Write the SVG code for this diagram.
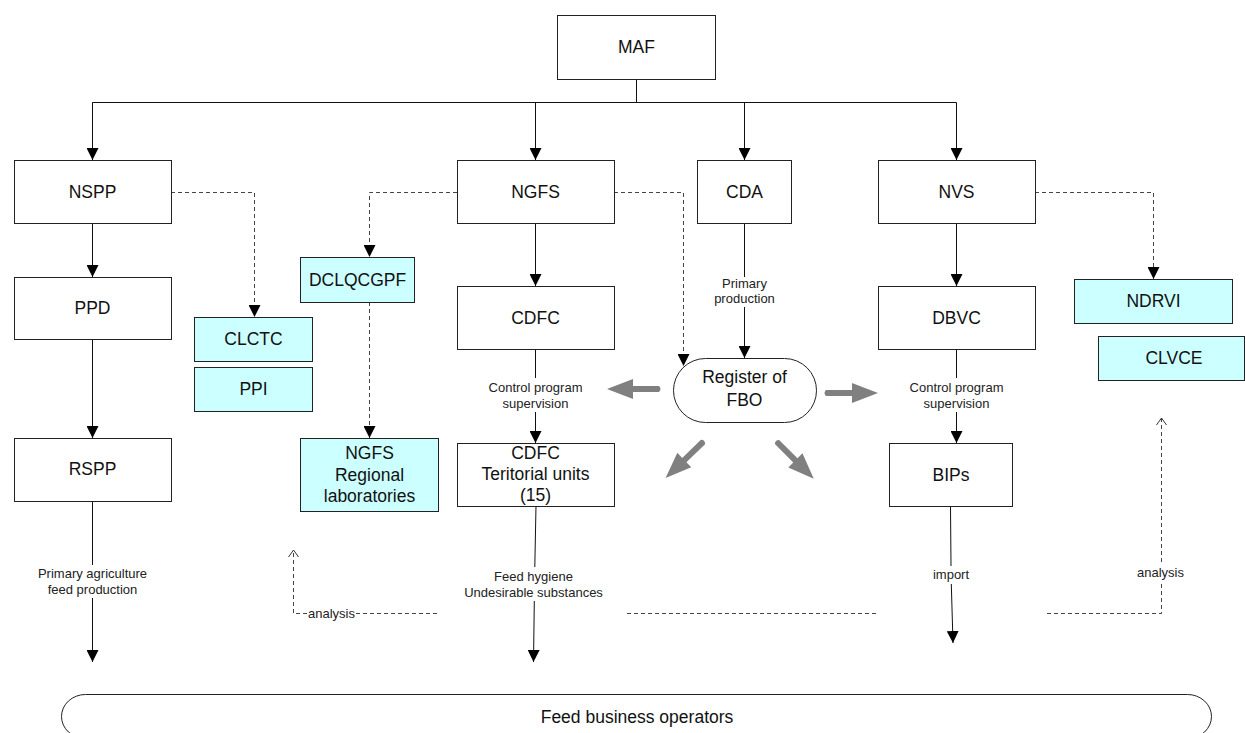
<svg xmlns="http://www.w3.org/2000/svg" width="1245" height="733" viewBox="0 0 1245 733">
  <style>
    .box { fill: #ffffff; stroke: #222222; stroke-width: 1; }
    .lab { fill: #ccffff; stroke: #222222; stroke-width: 1; }
    .t { font-family: "Liberation Sans", Arial, sans-serif; font-size: 17.5px; fill: #111111; text-anchor: middle; }
    .s { font-family: "Liberation Sans", Arial, sans-serif; font-size: 13px; fill: #222222; text-anchor: middle; }
    .ln { fill: none; stroke: #111111; stroke-width: 1; }
    .dash { fill: none; stroke: #444444; stroke-width: 1; stroke-dasharray: 4 3; }
    .big { fill: #808080; }
  </style>
  <defs>
    <marker id="tri" markerUnits="userSpaceOnUse" markerWidth="12" markerHeight="12" refX="12" refY="6" orient="auto">
      <path d="M0,0 L12,6 L0,12 Z" fill="#000000"/>
    </marker>
    <marker id="open" markerUnits="userSpaceOnUse" markerWidth="10" markerHeight="12" refX="7" refY="6" orient="auto">
      <path d="M0,1 L7,6 L0,11" fill="none" stroke="#333333" stroke-width="1"/>
    </marker>
    <path id="bigArrow" d="M0,-3 Q-3,0 0,3 L26,3 L26,10 L52,0 L26,-10 L26,-3 Z"/>
  </defs>

  <!-- connectors -->
  <g id="connectors">
    <!-- MAF fan-out -->
    <path class="ln" d="M636.5,79 V102.5"/>
    <path class="ln" d="M92.5,160 V102.5 H956.5 V160" marker-end="url(#tri)"/>
    <path class="ln" d="M92.5,102.5 V160" marker-end="url(#tri)"/>
    <path class="ln" d="M535.5,102.5 V160" marker-end="url(#tri)"/>
    <path class="ln" d="M744.5,102.5 V160" marker-end="url(#tri)"/>

    <!-- solid flows -->
    <path class="ln" d="M92.5,223 V277" marker-end="url(#tri)"/>
    <path class="ln" d="M92.5,339 V438" marker-end="url(#tri)"/>
    <path class="ln" d="M535.5,223 V286" marker-end="url(#tri)"/>
    <path class="ln" d="M535.5,349 V378"/>
    <path class="ln" d="M535.5,412 V443" marker-end="url(#tri)"/>
    <path class="ln" d="M744.5,223 V277"/>
    <path class="ln" d="M744.5,307 V358" marker-end="url(#tri)"/>
    <path class="ln" d="M956.5,223 V286" marker-end="url(#tri)"/>
    <path class="ln" d="M956.5,349 V378"/>
    <path class="ln" d="M956.5,412 V443" marker-end="url(#tri)"/>

    <!-- flows to the operators -->
    <path class="ln" d="M92.5,501 V565"/>
    <path class="ln" d="M92.5,598 V662" marker-end="url(#tri)"/>
    <path class="ln" d="M536,506 L534.8,567"/>
    <path class="ln" d="M534.3,601 L533.5,662" marker-end="url(#tri)"/>
    <path class="ln" d="M950.5,506 L951,566"/>
    <path class="ln" d="M951.3,584 L953,643" marker-end="url(#tri)"/>

    <!-- dashed links to laboratories / register -->
    <path class="dash" d="M171,192.5 H254.5 V317" marker-end="url(#tri)"/>
    <path class="dash" d="M457,192.5 H369.5 V257" marker-end="url(#tri)"/>
    <path class="dash" d="M369.5,302 V438" marker-end="url(#tri)"/>
    <path class="dash" d="M614,192.5 H683.5 V366" marker-end="url(#tri)"/>
    <path class="dash" d="M1035,192.5 H1153.5 V279" marker-end="url(#tri)"/>

    <!-- analysis feedback -->
    <path class="dash" d="M307,613.5 H293.5 V550" marker-end="url(#open)"/>
    <path class="dash" d="M356,613.5 H438"/>
    <path class="dash" d="M627,613.5 H878"/>
    <path class="dash" d="M1047,613.5 H1161.5 V584"/>
    <path class="dash" d="M1161.5,562 V418" marker-end="url(#open)"/>

    <!-- register distribution arrows -->
    <use href="#bigArrow" class="big" transform="translate(659,389) rotate(180)"/>
    <use href="#bigArrow" class="big" transform="translate(826,393)"/>
    <use href="#bigArrow" class="big" transform="translate(703,442) rotate(136)"/>
    <use href="#bigArrow" class="big" transform="translate(777,442) rotate(45)"/>
  </g>

  <!-- connector labels -->
  <g id="labels">
    <text class="s" x="744.5" y="287.5">Primary</text>
    <text class="s" x="744.5" y="303">production</text>
    <text class="s" x="535.5" y="391.5">Control program</text>
    <text class="s" x="535.5" y="408">supervision</text>
    <text class="s" x="956.5" y="391.5">Control program</text>
    <text class="s" x="956.5" y="408">supervision</text>
    <text class="s" x="92.5" y="577.5">Primary agriculture</text>
    <text class="s" x="92.5" y="593.5">feed production</text>
    <text class="s" x="533.5" y="580.5">Feed hygiene</text>
    <text class="s" x="533.5" y="596.5">Undesirable substances</text>
    <text class="s" x="951" y="578.5">import</text>
    <text class="s" x="1160.5" y="576.5">analysis</text>
    <text class="s" x="331.5" y="617.5">analysis</text>
  </g>

  <g id="MAF"><rect class="box" x="557.5" y="15.5" width="158" height="64"/><text class="t" x="636.5" y="53">MAF</text></g>
  <g id="NSPP"><rect class="box" x="14.5" y="160.5" width="157" height="63"/><text class="t" x="92.5" y="198">NSPP</text></g>
  <g id="NGFS"><rect class="box" x="457.5" y="160.5" width="157" height="63"/><text class="t" x="535.5" y="198">NGFS</text></g>
  <g id="CDA"><rect class="box" x="697.5" y="160.5" width="94" height="63"/><text class="t" x="744.5" y="198">CDA</text></g>
  <g id="NVS"><rect class="box" x="878.5" y="160.5" width="157" height="63"/><text class="t" x="956.5" y="198">NVS</text></g>

  <g id="PPD"><rect class="box" x="14.5" y="277.5" width="157" height="62"/><text class="t" x="92.5" y="314">PPD</text></g>
  <g id="RSPP"><rect class="box" x="14.5" y="438.5" width="157" height="63"/><text class="t" x="92.5" y="475">RSPP</text></g>

  <g id="CLCTC"><rect class="lab" x="194.5" y="317.5" width="118" height="44"/><text class="t" x="253.5" y="345">CLCTC</text></g>
  <g id="PPI"><rect class="lab" x="194.5" y="367.5" width="118" height="44"/><text class="t" x="253.5" y="395">PPI</text></g>

  <g id="DCLQCGPF"><rect class="lab" x="300.5" y="257.5" width="114" height="45"/><text class="t" x="357.5" y="286">DCLQCGPF</text></g>
  <g id="NGFS-regional"><rect class="lab" x="300.5" y="438.5" width="138" height="73"/>
    <text class="t" x="369.5" y="459">NGFS</text>
    <text class="t" x="369.5" y="480.5">Regional</text>
    <text class="t" x="369.5" y="502">laboratories</text>
  </g>

  <g id="CDFC"><rect class="box" x="457.5" y="286.5" width="157" height="63"/><text class="t" x="535.5" y="324">CDFC</text></g>
  <g id="CDFC-units"><rect class="box" x="457.5" y="443.5" width="157" height="63"/>
    <text class="t" x="535.5" y="459">CDFC</text>
    <text class="t" x="535.5" y="480">Teritorial units</text>
    <text class="t" x="535.5" y="501">(15)</text>
  </g>

  <g id="register"><rect class="box" x="673.5" y="358.5" width="143" height="64" rx="32" ry="32"/>
    <text class="t" x="744.5" y="383">Register of</text>
    <text class="t" x="744.5" y="406">FBO</text>
  </g>

  <g id="DBVC"><rect class="box" x="878.5" y="286.5" width="157" height="63"/><text class="t" x="956.5" y="324">DBVC</text></g>
  <g id="BIPs"><rect class="box" x="889.5" y="443.5" width="123" height="63"/><text class="t" x="951" y="481">BIPs</text></g>

  <g id="NDRVI"><rect class="lab" x="1074.5" y="279.5" width="158" height="44"/><text class="t" x="1153.5" y="307">NDRVI</text></g>
  <g id="CLVCE"><rect class="lab" x="1098.5" y="336.5" width="146" height="44"/><text class="t" x="1174" y="364">CLVCE</text></g>

  <g id="operators"><rect class="box" x="61.5" y="694.5" width="1150" height="44" rx="24" ry="22"/>
    <text class="t" x="637" y="723">Feed business operators</text>
  </g>
</svg>
